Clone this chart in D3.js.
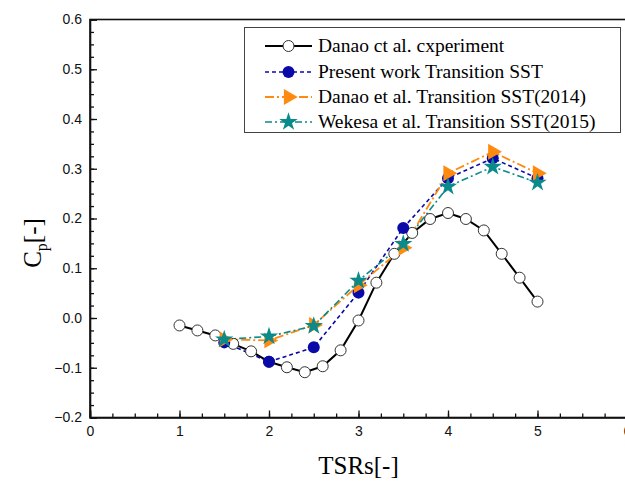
<!DOCTYPE html>
<html>
<head>
<meta charset="utf-8">
<script src="https://cdn.jsdelivr.net/npm/d3@7"></script>
<style>
  body { margin: 0; background: #fff; }
  svg { display: block; }
  .tick text { font-family: "Liberation Sans", Arial, sans-serif; font-size: 14px; fill: #111; }
</style>
</head>
<body>
<div class="cp-chart"></div>
<script>
// experiment (open circles), TSR 1.0 to 5.0 step 0.2
var expTsr = [1.0, 1.2, 1.4, 1.6, 1.8, 2.0, 2.2, 2.4, 2.6, 2.8, 3.0, 3.2, 3.4, 3.6, 3.8, 4.0, 4.2, 4.4, 4.6, 4.8, 5.0];
var expCp = [-0.015, -0.025, -0.035, -0.052, -0.067, -0.088, -0.099, -0.109, -0.097, -0.065, -0.005, 0.071, 0.129, 0.171, 0.199, 0.211, 0.199, 0.176, 0.129, 0.081, 0.033];

// CFD series share the same TSR points
var cfdTsr = [1.5, 2.0, 2.5, 3.0, 3.5, 4.0, 4.5, 5.0];
var presentCp = [-0.049, -0.088, -0.059, 0.051, 0.181, 0.281, 0.321, 0.281];
var danao2014Cp = [-0.043, -0.045, -0.014, 0.066, 0.141, 0.291, 0.334, 0.291];
var wekesa2015Cp = [-0.043, -0.037, -0.016, 0.075, 0.149, 0.264, 0.304, 0.272];

var seriesNames = ["Danao ct al. cxperiment", "Present work Transition SST", "Danao et al. Transition SST(2014)", "Wekesa et al. Transition SST(2015)"];

var xTicks = [0, 1, 2, 3, 4, 5, 6];
var yTicks = [-0.2, -0.1, 0.0, 0.1, 0.2, 0.3, 0.4, 0.5, 0.6];

var width = 625, height = 481;
var margin = {left: 90, top: 19.5, right: -2, bottom: 63.5};
var plotW = width - margin.left - margin.right;
var plotH = height - margin.top - margin.bottom;

var svg = d3.select(".cp-chart").append("svg").attr("width", width).attr("height", height);

var x = d3.scaleLinear().domain([0, 6]).range([0, plotW]);
var y = d3.scaleLinear().domain([-0.2, 0.6]).range([plotH, 0]);

var chartGroup = svg.append("g").attr("transform", "translate(" + margin.left + "," + margin.top + ")");

// frame (top + right)
chartGroup.append("rect")
  .attr("width", plotW).attr("height", plotH)
  .attr("fill", "none").attr("stroke", "#111").attr("stroke-width", 1.6);

// minor ticks
chartGroup.append("g").call(d3.axisLeft(y).tickValues(d3.range(-0.2, 0.6001, 0.025)).tickSize(-4).tickFormat(""))
  .call(function(g){ g.select(".domain").remove(); g.selectAll("line").attr("stroke", "#111").attr("stroke-width", 1.3); });
chartGroup.append("g").attr("transform", "translate(0," + plotH + ")")
  .call(d3.axisBottom(x).tickValues(d3.range(0, 6.001, 0.25)).tickSize(-4).tickFormat(""))
  .call(function(g){ g.select(".domain").remove(); g.selectAll("line").attr("stroke", "#111").attr("stroke-width", 1.3); });

// major axes
chartGroup.append("g")
  .call(d3.axisLeft(y).tickValues(yTicks).tickSize(-7).tickPadding(8).tickFormat(d3.format(".1f")))
  .call(function(g){ g.select(".domain").attr("stroke", "#111").attr("stroke-width", 1.6); g.selectAll("line").attr("stroke", "#111").attr("stroke-width", 1.3); });

chartGroup.append("g").attr("transform", "translate(0," + plotH + ")")
  .call(d3.axisBottom(x).tickValues(xTicks).tickSize(-7).tickPadding(9).tickFormat(d3.format("d")))
  .call(function(g){ g.select(".domain").attr("stroke", "#111").attr("stroke-width", 1.6); g.selectAll("line").attr("stroke", "#111").attr("stroke-width", 1.3); });

// axis titles
svg.append("text")
  .attr("x", margin.left + x(3)).attr("y", 474)
  .style("text-anchor", "middle")
  .style("font-family", "'Liberation Serif', 'Times New Roman', serif")
  .style("font-size", "25px")
  .text("TSRs[-]");

var yTitle = svg.append("text")
  .attr("transform", "translate(41,243) rotate(-90)")
  .style("text-anchor", "middle")
  .style("font-family", "'Liberation Serif', 'Times New Roman', serif")
  .style("font-size", "25px");
yTitle.append("tspan").text("C");
yTitle.append("tspan").attr("dy", 6).style("font-size", "16px").text("p");
yTitle.append("tspan").attr("dy", -6).text("[-]");

// series
var series = [
  {name: seriesNames[0], xs: expTsr, ys: expCp, color: "#000", dash: null, width: 2, marker: "circle"},
  {name: seriesNames[1], xs: cfdTsr, ys: presentCp, color: "#0a0aa8", dash: "4,3", width: 1.6, marker: "dot"},
  {name: seriesNames[2], xs: cfdTsr, ys: danao2014Cp, color: "#ff8a10", dash: "9,3,2,3", width: 1.8, marker: "tri"},
  {name: seriesNames[3], xs: cfdTsr, ys: wekesa2015Cp, color: "#0a8a8a", dash: "7,3,2,3", width: 1.6, marker: "star"}
];

var line = d3.line().x(function(d){ return x(d[0]); }).y(function(d){ return y(d[1]); });

function drawMarker(g, s, px, py) {
  if (s.marker === "circle") {
    g.append("circle").attr("cx", px).attr("cy", py).attr("r", 5.5)
      .attr("fill", "#fff").attr("stroke", "#333").attr("stroke-width", 1);
  } else if (s.marker === "dot") {
    g.append("circle").attr("cx", px).attr("cy", py).attr("r", 6).attr("fill", s.color);
  } else if (s.marker === "tri") {
    g.append("path").attr("transform", "translate(" + px + "," + py + ") rotate(90)")
      .attr("d", d3.symbol().type(d3.symbolTriangle).size(110)()).attr("fill", s.color);
  } else {
    g.append("path").attr("transform", "translate(" + px + "," + py + ")")
      .attr("d", d3.symbol().type(d3.symbolStar).size(105)()).attr("fill", s.color);
  }
}

series.forEach(function(s){
  var pts = s.xs.map(function(v, i){ return [v, s.ys[i]]; });
  chartGroup.append("path")
    .attr("fill", "none").attr("stroke", s.color).attr("stroke-width", s.width)
    .attr("stroke-dasharray", s.dash)
    .attr("d", line(pts));
});
series.forEach(function(s){
  var g = chartGroup.append("g");
  s.xs.forEach(function(v, i){ drawMarker(g, s, x(v), y(s.ys[i])); });
});

// legend
var legend = svg.append("g");
legend.append("rect").attr("x", 244.5).attr("y", 27.5).attr("width", 376).attr("height", 105)
  .attr("fill", "#fff").attr("stroke", "#444").attr("stroke-width", 1);
var rowY = [46, 72, 97, 122];
series.forEach(function(s, i){
  var ly = rowY[i];
  legend.append("line").attr("x1", 265).attr("x2", 312).attr("y1", ly).attr("y2", ly)
    .attr("stroke", s.color).attr("stroke-width", s.width).attr("stroke-dasharray", s.dash);
  drawMarker(legend, s, 288.5, ly);
  legend.append("text").attr("x", 318).attr("y", ly + 6)
    .style("font-family", "'Liberation Serif', 'Times New Roman', serif")
    .style("font-size", "19.5px")
    .text(s.name);
});
</script>
</body>
</html>
